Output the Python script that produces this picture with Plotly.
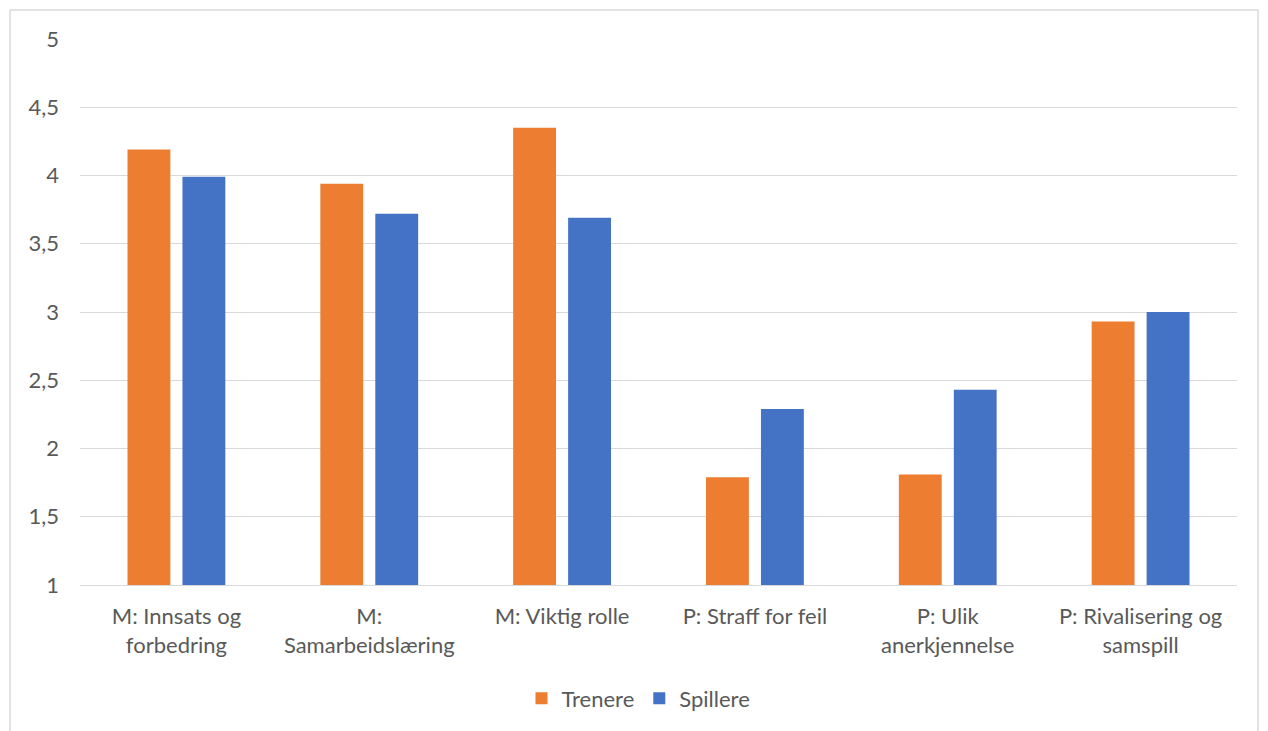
import plotly.graph_objects as go

categories = [
    "M: Innsats og<br>forbedring",
    "M:<br>Samarbeidslæring",
    "M: Viktig rolle",
    "P: Straff for feil",
    "P: Ulik<br>anerkjennelse",
    "P: Rivalisering og<br>samspill",
]
trenere = [4.19, 3.94, 4.35, 1.79, 1.81, 2.93]
spillere = [3.99, 3.72, 3.69, 2.29, 2.43, 3.00]
y_ticks = [1, 1.5, 2, 2.5, 3, 3.5, 4, 4.5, 5]

ORANGE = "#ED7D31"
BLUE = "#4472C4"
TXT = "#595959"
FONT = "Lato"
FS = 22

fig = go.Figure()
fig.add_trace(go.Bar(name="Trenere", x=categories, y=trenere, marker_color=ORANGE,
                     marker_line_width=0))
fig.add_trace(go.Bar(name="Spillere", x=categories, y=spillere, marker_color=BLUE,
                     marker_line_width=0))

fig.update_layout(
    width=1268, height=731,
    margin=dict(l=80, r=31, t=39, b=146),
    paper_bgcolor="white", plot_bgcolor="white",
    barmode="group", bargap=0.43, bargroupgap=0.22,
    separators=", ",
    font=dict(family=FONT, size=FS, color=TXT),
    legend=dict(orientation="h", x=0.4827, xanchor="center", y=-0.208, yanchor="middle",
                font=dict(family=FONT, size=FS, color=TXT), itemwidth=30,
                traceorder="normal"),
    xaxis=dict(showgrid=False, showline=True, linecolor="#d9d9d9", linewidth=1,
               tickfont=dict(family=FONT, size=FS, color=TXT), ticks="",
               ticklabelstandoff=12, fixedrange=True),
    yaxis=dict(range=[1, 5], tickvals=y_ticks, showgrid=True, gridcolor="#d9d9d9",
               gridwidth=1, zeroline=False, showline=False, ticks="",
               tickfont=dict(family=FONT, size=FS, color=TXT), ticklabelstandoff=20,
               tickformat=",.1~f"),
    shapes=[dict(type="rect", xref="paper", yref="paper",
                 x0=(10 - 80) / 1157, x1=(1258 - 80) / 1157,
                 y0=(585 - 745) / 546, y1=(585 - 10) / 546,
                 line=dict(color="#d9d9d9", width=1.5), fillcolor="rgba(0,0,0,0)",
                 layer="below")],
)

fig.write_html("out.html")
